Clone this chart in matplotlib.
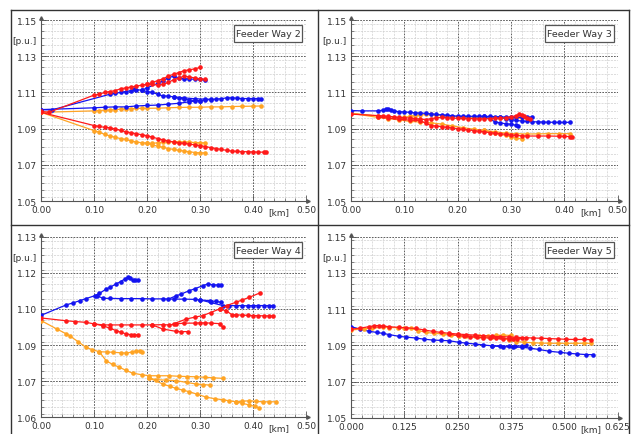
import matplotlib
matplotlib.use("Agg")
import matplotlib.pyplot as plt
from matplotlib.lines import Line2D
from matplotlib.patches import Rectangle
from matplotlib.ticker import MultipleLocator, FixedLocator, FormatStrFormatter

# ---- Feeder Way 2 : (km, p.u.) ----
fw2_red_a = [(0.0, 1.0995), (0.015, 1.099), (0.10, 1.1085), (0.11, 1.109), (0.12, 1.110), (0.13, 1.1105),
             (0.14, 1.111), (0.15, 1.112), (0.16, 1.1125), (0.17, 1.113), (0.18, 1.1135), (0.19, 1.114),
             (0.20, 1.1145), (0.21, 1.1155), (0.22, 1.1165), (0.23, 1.1175), (0.24, 1.119), (0.25, 1.120),
             (0.26, 1.121), (0.27, 1.122), (0.28, 1.1225), (0.29, 1.123), (0.30, 1.1238)]
fw2_red_b = [(0.20, 1.1145), (0.21, 1.1145), (0.22, 1.114), (0.23, 1.1145), (0.24, 1.1155), (0.25, 1.117),
             (0.26, 1.118), (0.27, 1.119), (0.28, 1.1185), (0.29, 1.118), (0.30, 1.1175), (0.31, 1.1172)]
fw2_red_c = [(0.0, 1.099), (0.10, 1.0917), (0.11, 1.0912), (0.12, 1.0907), (0.13, 1.0905), (0.14, 1.0898),
             (0.15, 1.089), (0.16, 1.0883), (0.17, 1.0877), (0.18, 1.0872), (0.19, 1.0866), (0.20, 1.0861),
             (0.21, 1.0853), (0.22, 1.0845), (0.23, 1.0838), (0.24, 1.0832), (0.25, 1.0826), (0.26, 1.0822),
             (0.27, 1.0818), (0.28, 1.0815), (0.29, 1.081), (0.30, 1.0806), (0.31, 1.0801), (0.32, 1.0795),
             (0.33, 1.079), (0.34, 1.0785), (0.35, 1.078), (0.36, 1.0776), (0.37, 1.0774), (0.38, 1.0773),
             (0.39, 1.0772), (0.40, 1.0771), (0.41, 1.077), (0.42, 1.077), (0.425, 1.0769)]
fw2_blue_a = [(0.0, 1.1005), (0.02, 1.1003), (0.13, 1.109), (0.14, 1.1095), (0.15, 1.110), (0.16, 1.1105),
              (0.17, 1.111), (0.175, 1.1118), (0.18, 1.1115), (0.19, 1.1112), (0.20, 1.1105), (0.21, 1.110),
              (0.22, 1.109), (0.23, 1.108), (0.24, 1.108), (0.25, 1.1075), (0.26, 1.1068), (0.27, 1.1063),
              (0.28, 1.1058), (0.29, 1.1055), (0.30, 1.1055), (0.31, 1.1058), (0.32, 1.106), (0.33, 1.1063),
              (0.34, 1.1065), (0.35, 1.107), (0.36, 1.107), (0.37, 1.1068), (0.38, 1.1066), (0.39, 1.1066),
              (0.40, 1.1066), (0.41, 1.1066), (0.415, 1.1066)]
fw2_blue_b = [(0.25, 1.1075), (0.27, 1.107), (0.29, 1.1065), (0.31, 1.1063), (0.32, 1.1062)]
fw2_blue_c = [(0.19, 1.1112), (0.20, 1.1125), (0.22, 1.115), (0.23, 1.1165), (0.24, 1.118), (0.25, 1.119),
              (0.26, 1.118), (0.27, 1.1175), (0.28, 1.1175), (0.29, 1.1172), (0.30, 1.1172), (0.31, 1.117)]
fw2_blue_d = [(0.0, 1.1005), (0.10, 1.1015), (0.12, 1.1018), (0.14, 1.102), (0.16, 1.102), (0.18, 1.1025),
              (0.20, 1.1028), (0.22, 1.103), (0.24, 1.1035), (0.26, 1.104), (0.28, 1.1048), (0.30, 1.1055)]
fw2_orange_a = [(0.0, 1.099), (0.10, 1.0998), (0.11, 1.100), (0.12, 1.1002), (0.13, 1.1003), (0.14, 1.1005),
                (0.15, 1.1007), (0.16, 1.1008), (0.17, 1.101), (0.18, 1.1012), (0.19, 1.1012), (0.20, 1.1012),
                (0.22, 1.1013), (0.24, 1.1015), (0.26, 1.1017), (0.28, 1.1018), (0.30, 1.1018), (0.32, 1.102),
                (0.34, 1.102), (0.36, 1.1022), (0.38, 1.1023), (0.40, 1.1024), (0.415, 1.1025)]
fw2_orange_b = [(0.0, 1.099), (0.10, 1.0889), (0.11, 1.088), (0.12, 1.0868), (0.13, 1.086), (0.14, 1.0852),
                (0.15, 1.0845), (0.16, 1.084), (0.17, 1.0832), (0.18, 1.0826), (0.19, 1.0822), (0.20, 1.082),
                (0.21, 1.0818), (0.22, 1.0822), (0.23, 1.0825), (0.24, 1.0826), (0.25, 1.0827), (0.26, 1.0828),
                (0.27, 1.0826), (0.28, 1.0825), (0.29, 1.0823), (0.30, 1.0822), (0.31, 1.0821)]
fw2_orange_c = [(0.20, 1.082), (0.21, 1.081), (0.22, 1.0803), (0.23, 1.0797), (0.24, 1.079), (0.25, 1.0785),
                (0.26, 1.078), (0.27, 1.0776), (0.28, 1.0772), (0.29, 1.0768), (0.30, 1.0766), (0.31, 1.0766)]

# ---- Feeder Way 3 ----
fw3_blue_a = [(0.0, 1.100), (0.02, 1.0998), (0.05, 1.0998), (0.06, 1.1002), (0.065, 1.1006), (0.07, 1.1008),
              (0.075, 1.1005), (0.08, 1.0998), (0.09, 1.0993), (0.10, 1.0992), (0.11, 1.099), (0.12, 1.0987),
              (0.13, 1.0986), (0.14, 1.0984), (0.15, 1.0981), (0.16, 1.0978), (0.17, 1.0976), (0.18, 1.0974),
              (0.19, 1.0971), (0.20, 1.0969), (0.21, 1.0968), (0.22, 1.0968), (0.23, 1.0968), (0.24, 1.0968),
              (0.25, 1.0968), (0.26, 1.0967), (0.27, 1.0966), (0.28, 1.0965), (0.29, 1.0964), (0.30, 1.0963),
              (0.31, 1.0962), (0.32, 1.0962), (0.33, 1.0963), (0.34, 1.0964)]
fw3_blue_b = [(0.28, 1.0962), (0.29, 1.0955), (0.30, 1.095), (0.31, 1.0945), (0.32, 1.0942), (0.33, 1.094),
              (0.34, 1.0938), (0.35, 1.0937), (0.36, 1.0936), (0.37, 1.0935), (0.38, 1.0935), (0.39, 1.0934),
              (0.40, 1.0934), (0.41, 1.0935)]
fw3_blue_c = [(0.25, 1.0967), (0.27, 1.0938), (0.28, 1.0931), (0.29, 1.0927), (0.30, 1.0924), (0.31, 1.0918),
              (0.3125, 1.0913)]
fw3_red_a = [(0.0, 1.098), (0.05, 1.0972), (0.06, 1.097), (0.07, 1.0968), (0.08, 1.0965), (0.09, 1.0962),
             (0.10, 1.096), (0.11, 1.0958), (0.12, 1.0955), (0.13, 1.0952), (0.14, 1.095), (0.15, 1.0955),
             (0.16, 1.096), (0.17, 1.0962), (0.18, 1.096), (0.19, 1.0958), (0.20, 1.0957), (0.21, 1.0956),
             (0.22, 1.0955), (0.23, 1.0955), (0.24, 1.0954), (0.25, 1.0954), (0.26, 1.0955), (0.27, 1.0956),
             (0.28, 1.0957), (0.29, 1.096), (0.30, 1.0965), (0.31, 1.0972), (0.315, 1.0978), (0.32, 1.0975),
             (0.325, 1.0968), (0.33, 1.096), (0.335, 1.0955)]
fw3_red_b = [(0.05, 1.0965), (0.07, 1.0958), (0.09, 1.0952), (0.11, 1.0947), (0.13, 1.0944), (0.14, 1.093),
             (0.15, 1.0917), (0.16, 1.0914), (0.17, 1.0911), (0.18, 1.0907), (0.19, 1.0903), (0.20, 1.090),
             (0.21, 1.0896), (0.22, 1.0893), (0.23, 1.0889), (0.24, 1.0885), (0.25, 1.0882), (0.26, 1.0878),
             (0.27, 1.0875), (0.28, 1.0872), (0.29, 1.0868), (0.30, 1.0865), (0.31, 1.0862), (0.32, 1.086),
             (0.33, 1.0859), (0.35, 1.0859), (0.37, 1.0859), (0.39, 1.0858), (0.40, 1.0857), (0.41, 1.0856),
             (0.415, 1.0855)]
fw3_orange_a = [(0.0, 1.0985), (0.05, 1.097), (0.07, 1.0965), (0.09, 1.096), (0.10, 1.0962), (0.11, 1.0968),
                (0.12, 1.0972), (0.13, 1.0975), (0.14, 1.0978), (0.15, 1.0978), (0.16, 1.0975), (0.17, 1.0972),
                (0.18, 1.097), (0.20, 1.0966), (0.22, 1.0963), (0.24, 1.096), (0.26, 1.096), (0.28, 1.0958),
                (0.30, 1.0958), (0.32, 1.0957), (0.33, 1.0956)]
fw3_orange_b = [(0.0, 1.0985), (0.05, 1.0962), (0.07, 1.0955), (0.09, 1.0948), (0.11, 1.094), (0.13, 1.0936),
                (0.15, 1.0932), (0.17, 1.0925), (0.19, 1.0915), (0.21, 1.0905), (0.23, 1.0897), (0.25, 1.089),
                (0.27, 1.0883), (0.29, 1.0875), (0.31, 1.0872), (0.33, 1.087), (0.35, 1.0871), (0.37, 1.0872),
                (0.39, 1.0872), (0.41, 1.0872)]
fw3_orange_c = [(0.25, 1.089), (0.27, 1.0875), (0.29, 1.0862), (0.30, 1.0855), (0.31, 1.0848), (0.32, 1.0843)]

# ---- Feeder Way 4 ----
fw4_blue_a = [(0.0, 1.0995), (0.048, 1.1036), (0.06, 1.1043), (0.073, 1.1052), (0.085, 1.106), (0.101, 1.1071),
              (0.11, 1.108), (0.123, 1.1097), (0.13, 1.1104), (0.142, 1.1117), (0.15, 1.1126), (0.158, 1.1136),
              (0.164, 1.1143), (0.168, 1.114), (0.173, 1.1133), (0.178, 1.1133), (0.183, 1.1133)]
fw4_blue_b = [(0.105, 1.1072), (0.117, 1.1061), (0.13, 1.1061), (0.15, 1.106), (0.17, 1.106), (0.19, 1.106),
              (0.21, 1.1059), (0.23, 1.1059), (0.25, 1.1058), (0.27, 1.1058), (0.29, 1.1057), (0.30, 1.1055),
              (0.318, 1.1052), (0.33, 1.1049), (0.34, 1.1046)]
fw4_blue_c = [(0.24, 1.1058), (0.255, 1.1071), (0.265, 1.1078), (0.28, 1.1091), (0.29, 1.1098), (0.305, 1.111),
              (0.315, 1.1117), (0.325, 1.1113), (0.333, 1.1113), (0.34, 1.1113)]
fw4_blue_d = [(0.30, 1.1055), (0.32, 1.1045), (0.343, 1.1033), (0.355, 1.1033), (0.368, 1.1033), (0.38, 1.1033),
              (0.39, 1.1032), (0.40, 1.1033), (0.41, 1.1033), (0.42, 1.1033), (0.43, 1.1033), (0.437, 1.1033)]
fw4_red_a = [(0.0, 1.0985), (0.048, 1.0974), (0.065, 1.0971), (0.085, 1.0968), (0.10, 1.0962), (0.117, 1.0955),
             (0.13, 1.0945), (0.142, 1.0936), (0.15, 1.093), (0.161, 1.0923), (0.17, 1.092), (0.176, 1.0919),
             (0.183, 1.0919)]
fw4_red_b = [(0.10, 1.0962), (0.117, 1.0958), (0.13, 1.0958), (0.15, 1.0958), (0.17, 1.0958), (0.19, 1.0958),
             (0.21, 1.0958), (0.23, 1.0959), (0.242, 1.0958), (0.255, 1.0962), (0.27, 1.0965), (0.29, 1.0965),
             (0.30, 1.0966), (0.31, 1.0966), (0.32, 1.0965), (0.337, 1.0963), (0.343, 1.0949)]
fw4_red_c = [(0.21, 1.0958), (0.23, 1.0942), (0.255, 1.0933), (0.265, 1.0932), (0.277, 1.0932)]
fw4_red_d = [(0.25, 1.0962), (0.274, 1.0981), (0.29, 1.0988), (0.305, 1.0994), (0.32, 1.1006), (0.337, 1.102),
             (0.35, 1.1033), (0.368, 1.1046), (0.38, 1.1055), (0.393, 1.1065), (0.413, 1.1082)]
fw4_red_e = [(0.337, 1.102), (0.349, 1.1013), (0.36, 1.0998), (0.368, 1.0997), (0.38, 1.0996), (0.39, 1.0995),
             (0.40, 1.0994), (0.41, 1.0994), (0.42, 1.0993), (0.43, 1.0993), (0.437, 1.0993)]
fw4_orange_a = [(0.0, 1.0975), (0.03, 1.0942), (0.048, 1.0923), (0.054, 1.0916), (0.07, 1.0893), (0.085, 1.0871),
                (0.097, 1.0862), (0.110, 1.0854), (0.125, 1.0853), (0.136, 1.0852), (0.15, 1.085), (0.161, 1.0849),
                (0.172, 1.0853), (0.180, 1.0858), (0.186, 1.0856), (0.191, 1.0854)]
fw4_orange_b = [(0.110, 1.0854), (0.123, 1.0819), (0.135, 1.0805), (0.148, 1.0794), (0.16, 1.0782),
                (0.173, 1.0771), (0.19, 1.0765), (0.204, 1.0761), (0.22, 1.0761), (0.242, 1.0761),
                (0.26, 1.0759), (0.275, 1.0758), (0.293, 1.0757), (0.31, 1.0755), (0.325, 1.0753), (0.343, 1.0751)]
fw4_orange_c = [(0.204, 1.0752), (0.217, 1.0746), (0.235, 1.0744), (0.255, 1.0742), (0.275, 1.0735),
                (0.293, 1.0729), (0.305, 1.0727), (0.318, 1.0725)]
fw4_orange_d = [(0.204, 1.0752), (0.23, 1.0729), (0.243, 1.072), (0.255, 1.0712), (0.268, 1.0705), (0.28, 1.0699),
                (0.295, 1.0689), (0.312, 1.0678), (0.328, 1.0672), (0.343, 1.0668), (0.355, 1.0664), (0.368, 1.066),
                (0.38, 1.0654), (0.393, 1.0648), (0.403, 1.0642), (0.412, 1.0636)]
fw4_orange_e = [(0.368, 1.066), (0.38, 1.0662), (0.393, 1.0664), (0.405, 1.0662), (0.418, 1.066), (0.43, 1.066),
                (0.444, 1.066)]

# ---- Feeder Way 5 ----
fw5_blue_a = [(0.0, 1.1004), (0.02, 1.099), (0.043, 1.0978), (0.06, 1.0972), (0.074, 1.0967), (0.09, 1.096),
              (0.113, 1.095), (0.13, 1.0946), (0.152, 1.0941), (0.17, 1.0935), (0.191, 1.093), (0.21, 1.0928),
              (0.23, 1.0926), (0.254, 1.0917), (0.27, 1.0913), (0.29, 1.0908), (0.31, 1.0903), (0.33, 1.0898),
              (0.355, 1.0893), (0.38, 1.0891), (0.40, 1.089), (0.42, 1.0885), (0.44, 1.0878), (0.465, 1.0868),
              (0.49, 1.0862), (0.51, 1.0857), (0.53, 1.0853), (0.55, 1.085), (0.566, 1.0849)]
fw5_blue_b = [(0.33, 1.0898), (0.35, 1.0898), (0.37, 1.0896), (0.385, 1.0895), (0.40, 1.0898), (0.41, 1.090)]
fw5_red_a = [(0.0, 1.099), (0.02, 1.0995), (0.043, 1.1004), (0.055, 1.1009), (0.065, 1.101), (0.074, 1.1008),
             (0.09, 1.1003), (0.113, 1.100), (0.13, 1.0997), (0.152, 1.0994), (0.17, 1.0986), (0.191, 1.0978),
             (0.21, 1.0972), (0.23, 1.0967), (0.25, 1.0963), (0.27, 1.096), (0.29, 1.0957), (0.309, 1.0954),
             (0.33, 1.0951), (0.348, 1.0949), (0.37, 1.0947), (0.387, 1.0945), (0.41, 1.0943), (0.426, 1.0941),
             (0.445, 1.094), (0.465, 1.0938), (0.485, 1.0936), (0.504, 1.0934), (0.525, 1.0933), (0.545, 1.0933),
             (0.5625, 1.0932)]
fw5_red_b = [(0.23, 1.0962), (0.25, 1.0955), (0.265, 1.0951), (0.28, 1.0948), (0.295, 1.0945), (0.31, 1.0943),
             (0.325, 1.0941), (0.34, 1.094), (0.355, 1.0938), (0.37, 1.0937), (0.38, 1.0935), (0.39, 1.0935),
             (0.40, 1.094)]
fw5_orange_a = [(0.0, 1.0985), (0.03, 1.0992), (0.05, 1.0996), (0.074, 1.100), (0.09, 1.0999), (0.11, 1.0998),
                (0.125, 1.0996), (0.14, 1.0994), (0.158, 1.0982), (0.176, 1.0972), (0.195, 1.0967),
                (0.215, 1.0963), (0.235, 1.0958), (0.254, 1.0954), (0.27, 1.0952), (0.29, 1.095),
                (0.309, 1.0949), (0.33, 1.0946), (0.355, 1.0941), (0.37, 1.093), (0.387, 1.0921),
                (0.405, 1.0918), (0.426, 1.0915), (0.445, 1.0913), (0.465, 1.0912), (0.485, 1.0912),
                (0.504, 1.0912), (0.525, 1.0912), (0.545, 1.0912), (0.5625, 1.0912)]
fw5_orange_b = [(0.30, 1.0952), (0.32, 1.0953), (0.34, 1.0955), (0.355, 1.0958), (0.375, 1.0955)]

RED = "#ff1a1a"
BLUE = "#1414f0"
ORANGE = "#ffa424"

panels = [
    dict(title="Feeder Way 2", rect=[0.0649, 0.5356, 0.4193, 0.4161],
         series=[(ORANGE, [fw2_orange_a, fw2_orange_b, fw2_orange_c]),
                 (BLUE, [fw2_blue_a, fw2_blue_b, fw2_blue_c, fw2_blue_d]),
                 (RED, [fw2_red_a, fw2_red_b, fw2_red_c])],
         xmax=0.5, xstep=0.1, xfmt="%.2f", ymin=1.05, ymax=1.15, ystep=0.02),
    dict(title="Feeder Way 3", rect=[0.5554, 0.5356, 0.422, 0.4161],
         series=[(ORANGE, [fw3_orange_a, fw3_orange_b, fw3_orange_c]),
                 (BLUE, [fw3_blue_a, fw3_blue_b, fw3_blue_c]),
                 (RED, [fw3_red_a, fw3_red_b])],
         xmax=0.5, xstep=0.1, xfmt="%.2f", ymin=1.05, ymax=1.15, ystep=0.02),
    dict(title="Feeder Way 4", rect=[0.0649, 0.0384, 0.4193, 0.4152],
         series=[(ORANGE, [fw4_orange_a, fw4_orange_b, fw4_orange_c, fw4_orange_d, fw4_orange_e]),
                 (BLUE, [fw4_blue_a, fw4_blue_b, fw4_blue_c, fw4_blue_d]),
                 (RED, [fw4_red_a, fw4_red_b, fw4_red_c, fw4_red_d, fw4_red_e])],
         xmax=0.5, xstep=0.1, xfmt="%.2f", ymin=1.06, ymax=1.13, ystep=0.014),
    dict(title="Feeder Way 5", rect=[0.5554, 0.0368, 0.422, 0.4168],
         series=[(BLUE, [fw5_blue_a, fw5_blue_b]),
                 (ORANGE, [fw5_orange_a, fw5_orange_b]),
                 (RED, [fw5_red_a, fw5_red_b])],
         xmax=0.625, xstep=0.125, xfmt="%.3f", ymin=1.05, ymax=1.15, ystep=0.02),
]

fig = plt.figure(figsize=(6.32, 4.35), dpi=100)
fig.patch.set_facecolor("white")

for p in panels:
    ax = fig.add_axes(p["rect"])
    for color, branches in p["series"]:
        for br in branches:
            xs = [pt[0] for pt in br]
            ys = [pt[1] for pt in br]
            ax.plot(xs, ys, color=color, lw=0.9, marker="o", ms=3.3, mew=0, zorder=3)

    ax.set_xlim(0, p["xmax"])
    ax.set_ylim(p["ymin"], p["ymax"])
    xt = [i * p["xstep"] for i in range(6)]
    yt = [p["ymin"] + i * p["ystep"] for i in range(6)]
    ax.xaxis.set_major_locator(FixedLocator(xt))
    ax.yaxis.set_major_locator(FixedLocator(yt))
    ax.xaxis.set_minor_locator(MultipleLocator(p["xstep"] / 5))
    ax.yaxis.set_minor_locator(MultipleLocator(p["ystep"] / 5))
    ax.xaxis.set_major_formatter(FormatStrFormatter(p["xfmt"]))
    ax.yaxis.set_major_formatter(FormatStrFormatter("%.2f"))

    ax.grid(which="major", color="#444444", lw=0.6, ls=(0, (2, 1.5)))
    ax.grid(which="minor", color="#cfcfcf", lw=0.5, ls=(0, (3, 1.5)))
    ax.set_axisbelow(True)
    for s in ["top", "right"]:
        ax.spines[s].set_visible(False)
    for s in ["left", "bottom"]:
        ax.spines[s].set_color("#555555")
        ax.spines[s].set_linewidth(0.8)
    ax.tick_params(which="both", direction="in", colors="#555555", labelcolor="#333333", labelsize=6.5)
    ax.tick_params(which="major", length=4, width=0.6, pad=3)
    ax.tick_params(which="minor", length=2, width=0.5)

    # axis arrows
    ax.plot([1.008], [0], marker=">", ms=2.5, color="#555555", transform=ax.transAxes, clip_on=False)
    ax.plot([0], [1.012], marker="^", ms=2.5, color="#555555", transform=ax.transAxes, clip_on=False)

    ax.text(-0.018, 0.885, "[p.u.]", transform=ax.transAxes, ha="right", va="center",
            fontsize=6.5, color="#333333")
    ax.text(0.898, -0.058, "[km]", transform=ax.transAxes, ha="center", va="center",
            fontsize=6.5, color="#333333")

    ax.add_patch(Rectangle((0.728, 0.88), 0.258, 0.09, transform=ax.transAxes, fc="white",
                           ec="#555555", lw=0.9, zorder=5))
    ax.text(0.857, 0.925, p["title"], transform=ax.transAxes, ha="center", va="center",
            fontsize=6.8, color="#333333", zorder=6)

# frame and dividers
line_kw = dict(color="#333333", lw=1.0)
top = 1 - 11 / 435
left = 11 / 632
right = 629 / 632
fig.add_artist(Line2D([left, right], [top, top], **line_kw))
fig.add_artist(Line2D([left, left], [0, top], **line_kw))
fig.add_artist(Line2D([right, right], [0, top], **line_kw))
fig.add_artist(Line2D([318 / 632, 318 / 632], [0, top], **line_kw))
fig.add_artist(Line2D([left, right], [1 - 226 / 435, 1 - 226 / 435], **line_kw))

fig.savefig("out.png", dpi=100)
